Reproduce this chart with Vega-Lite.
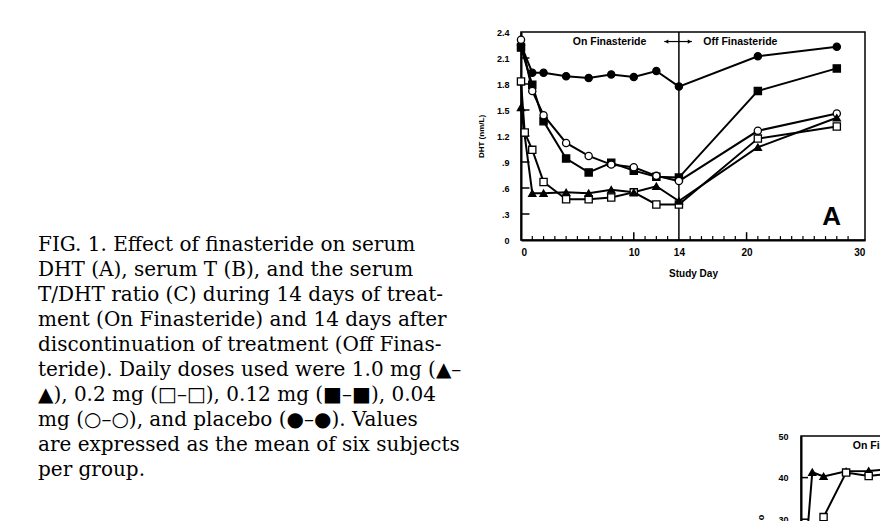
{
  "$schema": "https://vega.github.io/schema/vega-lite/v6.json",
  "background": "white",
  "padding": {"left": 38, "top": 27, "right": 0, "bottom": 0},
  "spacing": 10,
  "config": {
    "view": {"stroke": null},
    "font": "Liberation Sans",
    "axis": {
      "labelFont": "Liberation Sans", "labelFontWeight": "bold", "labelFontSize": 9.5, "labelColor": "black",
      "tickColor": "black", "domainColor": "black", "titleColor": "black", "grid": false,
      "titleFont": "Liberation Sans", "labelOverlap": false, "zindex": 1
    }
  },
  "datasets": {
    "caption": [
      {"line": 1, "text": "FIG. 1. Effect of finasteride on serum"},
      {"line": 2, "text": "DHT (A), serum T (B), and the serum"},
      {"line": 3, "text": "T/DHT ratio (C) during 14 days of treat-"},
      {"line": 4, "text": "ment (On Finasteride) and 14 days after"},
      {"line": 5, "text": "discontinuation of treatment (Off Finas-"},
      {"line": 6, "text": "teride). Daily doses used were 1.0 mg (▲–"},
      {"line": 7, "text": "▲), 0.2 mg (□–□), 0.12 mg (■–■), 0.04"},
      {"line": 8, "text": "mg (○–○), and placebo (●–●). Values"},
      {"line": 9, "text": "are expressed as the mean of six subjects"},
      {"line": 10, "text": "per group."}
    ],
    "dht": [
      {"dose": "placebo", "day": 0, "v": 2.25}, {"dose": "placebo", "day": 1, "v": 1.93}, {"dose": "placebo", "day": 2, "v": 1.93},
      {"dose": "placebo", "day": 4, "v": 1.89}, {"dose": "placebo", "day": 6, "v": 1.87}, {"dose": "placebo", "day": 8, "v": 1.91},
      {"dose": "placebo", "day": 10, "v": 1.88}, {"dose": "placebo", "day": 12, "v": 1.95}, {"dose": "placebo", "day": 14, "v": 1.77},
      {"dose": "placebo", "day": 21, "v": 2.12}, {"dose": "placebo", "day": 28, "v": 2.23},
      {"dose": "0.12 mg", "day": 0, "v": 2.22}, {"dose": "0.12 mg", "day": 1, "v": 1.79}, {"dose": "0.12 mg", "day": 2, "v": 1.37},
      {"dose": "0.12 mg", "day": 4, "v": 0.94}, {"dose": "0.12 mg", "day": 6, "v": 0.78}, {"dose": "0.12 mg", "day": 8, "v": 0.89},
      {"dose": "0.12 mg", "day": 10, "v": 0.80}, {"dose": "0.12 mg", "day": 12, "v": 0.73}, {"dose": "0.12 mg", "day": 14, "v": 0.72},
      {"dose": "0.12 mg", "day": 21, "v": 1.72}, {"dose": "0.12 mg", "day": 28, "v": 1.98},
      {"dose": "0.04 mg", "day": 0, "v": 2.31}, {"dose": "0.04 mg", "day": 1, "v": 1.72}, {"dose": "0.04 mg", "day": 2, "v": 1.44},
      {"dose": "0.04 mg", "day": 4, "v": 1.12}, {"dose": "0.04 mg", "day": 6, "v": 0.97}, {"dose": "0.04 mg", "day": 8, "v": 0.87},
      {"dose": "0.04 mg", "day": 10, "v": 0.84}, {"dose": "0.04 mg", "day": 12, "v": 0.74}, {"dose": "0.04 mg", "day": 14, "v": 0.68},
      {"dose": "0.04 mg", "day": 21, "v": 1.26}, {"dose": "0.04 mg", "day": 28, "v": 1.46},
      {"dose": "0.2 mg", "day": 0, "v": 1.83}, {"dose": "0.2 mg", "day": 0.33, "v": 1.24}, {"dose": "0.2 mg", "day": 1, "v": 1.04},
      {"dose": "0.2 mg", "day": 2, "v": 0.67}, {"dose": "0.2 mg", "day": 4, "v": 0.47}, {"dose": "0.2 mg", "day": 6, "v": 0.47},
      {"dose": "0.2 mg", "day": 8, "v": 0.49}, {"dose": "0.2 mg", "day": 10, "v": 0.55}, {"dose": "0.2 mg", "day": 12, "v": 0.41},
      {"dose": "0.2 mg", "day": 14, "v": 0.41}, {"dose": "0.2 mg", "day": 21, "v": 1.17}, {"dose": "0.2 mg", "day": 28, "v": 1.31},
      {"dose": "1.0 mg", "day": 0, "v": 1.53}, {"dose": "1.0 mg", "day": 1, "v": 0.54}, {"dose": "1.0 mg", "day": 2, "v": 0.54},
      {"dose": "1.0 mg", "day": 4, "v": 0.55}, {"dose": "1.0 mg", "day": 6, "v": 0.54}, {"dose": "1.0 mg", "day": 8, "v": 0.58},
      {"dose": "1.0 mg", "day": 10, "v": 0.55}, {"dose": "1.0 mg", "day": 12, "v": 0.62}, {"dose": "1.0 mg", "day": 14, "v": 0.45},
      {"dose": "1.0 mg", "day": 21, "v": 1.07}, {"dose": "1.0 mg", "day": 28, "v": 1.41}
    ],
    "ratio": [
      {"dose": "1.0 mg", "day": 0, "v": 8}, {"dose": "1.0 mg", "day": 1, "v": 41.3}, {"dose": "1.0 mg", "day": 2, "v": 40.3},
      {"dose": "1.0 mg", "day": 4, "v": 41.5}, {"dose": "1.0 mg", "day": 6, "v": 41.6}, {"dose": "1.0 mg", "day": 8, "v": 42},
      {"dose": "0.2 mg", "day": 0, "v": 8}, {"dose": "0.2 mg", "day": 1, "v": 20}, {"dose": "0.2 mg", "day": 2, "v": 30.5},
      {"dose": "0.2 mg", "day": 4, "v": 41.2}, {"dose": "0.2 mg", "day": 6, "v": 40.4}, {"dose": "0.2 mg", "day": 8, "v": 41}
    ],
    "labelsA": [
      {"day": 7.85, "v": 2.29, "t": "On Finasteride"},
      {"day": 19.45, "v": 2.29, "t": "Off Finasteride"}
    ],
    "arrow": [{"x1": 12.7, "x2": 15.15, "v": 2.29}],
    "arrowHeads": [{"day": 12.9, "v": 2.29, "s": "triangle-left"}, {"day": 14.95, "v": 2.29, "s": "triangle-right"}],
    "bigA": [{"day": 27.55, "v": 0.27, "t": "A"}],
    "labelsB": [{"day": 7.85, "v": 47.6, "t": "On Finasteride"}],
    "day14": [{"day": 14}],
    "yTicksA": [{"v": 0.3}, {"v": 0.6}, {"v": 0.9}, {"v": 1.2}, {"v": 1.5}, {"v": 1.8}, {"v": 2.1}],
    "xMinor": [{"day": 1}, {"day": 2}, {"day": 3}, {"day": 4}, {"day": 5}, {"day": 6}, {"day": 7}, {"day": 8}, {"day": 9},
      {"day": 11}, {"day": 12}, {"day": 13}, {"day": 15}, {"day": 16}, {"day": 17}, {"day": 18}, {"day": 19},
      {"day": 21}, {"day": 22}, {"day": 23}, {"day": 24}, {"day": 25}, {"day": 26}, {"day": 27}, {"day": 28}, {"day": 29}],
    "xMajor": [{"day": 10}, {"day": 20}],
    "yTicksB": [{"v": 10}, {"v": 20}, {"v": 30}, {"v": 40}],
    "none": [{"k": 0}]
  },
  "hconcat": [
    {
      "width": 428, "height": 494,
      "data": {"name": "caption"},
      "mark": {"type": "text", "align": "left", "baseline": "alphabetic", "font": "DejaVu Serif", "fontSize": 20, "color": "black"},
      "encoding": {
        "x": {"datum": 0, "type": "quantitative", "scale": {"domain": [0, 1]}, "axis": null},
        "y": {"field": "line", "type": "quantitative", "scale": {"domain": [-7.76, 12], "reverse": true, "nice": false, "zero": false}, "axis": null},
        "text": {"field": "text"}
      }
    },
    {
      "spacing": 152,
      "vconcat": [
        {
          "width": 344, "height": 208,
          "view": {"stroke": "black", "strokeWidth": 1.5},
          "layer": [
            {
              "data": {"name": "day14"},
              "mark": {"type": "rule", "color": "black", "strokeWidth": 1.5},
              "encoding": {
                "x": {"field": "day", "type": "quantitative", "scale": {"domain": [0, 30.5], "nice": false},
                  "axis": {"orient": "bottom", "values": [0, 10, 14, 20, 30], "tickCount": 10, "ticks": false, "domainWidth": 2, "labelPadding": 7, "labelFontSize": 10, "title": "Study Day", "titleFontSize": 10, "titleFontWeight": "bold", "titlePadding": 11}}
              }
            },
            {
              "data": {"name": "xMinor"},
              "mark": {"type": "rule", "color": "black", "strokeWidth": 1.2},
              "encoding": {
                "x": {"field": "day", "type": "quantitative", "axis": null},
                "y": {"datum": 0, "type": "quantitative"},
                "y2": {"datum": 0.045}
              }
            },
            {
              "data": {"name": "xMajor"},
              "mark": {"type": "rule", "color": "black", "strokeWidth": 1.5},
              "encoding": {
                "x": {"field": "day", "type": "quantitative", "axis": null},
                "y": {"datum": 0, "type": "quantitative"},
                "y2": {"datum": 0.09}
              }
            },
            {
              "data": {"name": "yTicksA"},
              "mark": {"type": "rule", "color": "black", "strokeWidth": 1.5},
              "encoding": {
                "y": {"field": "v", "type": "quantitative"},
                "x": {"datum": 0, "type": "quantitative", "axis": null},
                "x2": {"datum": 0.75}
              }
            },
            {
              "data": {"name": "dht"},
              "mark": {"type": "line", "color": "black", "strokeWidth": 2, "clip": false},
              "encoding": {
                "x": {"field": "day", "type": "quantitative", "axis": null},
                "y": {"field": "v", "type": "quantitative", "scale": {"domain": [0, 2.4], "nice": false},
                  "axis": {"values": [0, 0.3, 0.6, 0.9, 1.2, 1.5, 1.8, 2.1, 2.4], "tickCount": 12, "labelExpr": "datum.value == 0 ? '0' : replace(format(datum.value, '.1f'), '0.', '.')", "labelOverlap": false, "labelFontSize": 9, "ticks": false, "domainWidth": 2, "labelPadding": 12, "title": "DHT (nm/L)", "titleFontSize": 8, "titleFontWeight": "bold", "titlePadding": 11}},
                "detail": {"field": "dose"}
              }
            },
            {
              "data": {"name": "dht"},
              "mark": {"type": "point", "filled": true, "stroke": "black", "strokeWidth": 1.3, "size": 52, "opacity": 1, "clip": false},
              "encoding": {
                "x": {"field": "day", "type": "quantitative", "axis": null},
                "y": {"field": "v", "type": "quantitative"},
                "shape": {"field": "dose", "type": "nominal", "scale": {"domain": ["1.0 mg", "0.2 mg", "0.12 mg", "0.04 mg", "placebo"], "range": ["triangle-up", "square", "square", "circle", "circle"]}, "legend": null},
                "fill": {"field": "dose", "type": "nominal", "scale": {"domain": ["1.0 mg", "0.2 mg", "0.12 mg", "0.04 mg", "placebo"], "range": ["black", "white", "black", "white", "black"]}, "legend": null}
              }
            },
            {
              "data": {"name": "labelsA"},
              "mark": {"type": "text", "font": "Liberation Sans", "fontWeight": "bold", "fontSize": 10.5, "color": "black"},
              "encoding": {
                "x": {"field": "day", "type": "quantitative", "axis": null},
                "y": {"field": "v", "type": "quantitative"},
                "text": {"field": "t"}
              }
            },
            {
              "data": {"name": "arrow"},
              "mark": {"type": "rule", "color": "black", "strokeWidth": 1.2},
              "encoding": {
                "x": {"field": "x1", "type": "quantitative", "axis": null},
                "x2": {"field": "x2"},
                "y": {"field": "v", "type": "quantitative"}
              }
            },
            {
              "data": {"name": "arrowHeads"},
              "mark": {"type": "point", "filled": true, "color": "black", "size": 18, "opacity": 1},
              "encoding": {
                "x": {"field": "day", "type": "quantitative", "axis": null},
                "y": {"field": "v", "type": "quantitative"},
                "shape": {"field": "s", "type": "nominal", "scale": {"domain": ["triangle-left", "triangle-right"], "range": ["triangle-left", "triangle-right"]}, "legend": null}
              }
            },
            {
              "data": {"name": "bigA"},
              "mark": {"type": "text", "font": "Liberation Sans", "fontWeight": "bold", "fontSize": 26, "color": "black"},
              "encoding": {
                "x": {"field": "day", "type": "quantitative", "axis": null},
                "y": {"field": "v", "type": "quantitative"},
                "text": {"field": "t"}
              }
            }
          ],
          "resolve": {"axis": {"x": "independent"}, "scale": {"shape": "independent"}, "legend": {"shape": "independent"}}
        },
        {
          "spacing": 10,
          "hconcat": [
            {
              "width": 225, "height": 10,
              "data": {"name": "none"},
              "mark": {"type": "point", "opacity": 0},
              "encoding": {}
            },
            {
              "width": 344, "height": 208,
              "view": {"stroke": "black", "strokeWidth": 1.5},
              "layer": [
                {
                  "data": {"name": "yTicksB"},
                  "mark": {"type": "rule", "color": "black", "strokeWidth": 1.5},
                  "encoding": {
                    "y": {"field": "v", "type": "quantitative"},
                    "x": {"datum": 0, "type": "quantitative"},
                    "x2": {"datum": 0.62}
                  }
                },
                {
                  "data": {"name": "ratio"},
                  "mark": {"type": "line", "color": "black", "strokeWidth": 2},
                  "encoding": {
                    "x": {"field": "day", "type": "quantitative", "scale": {"domain": [0, 30.5], "nice": false},
                      "axis": {"values": [0, 10, 14, 20, 30], "tickCount": 10, "ticks": false, "domainWidth": 2, "labelPadding": 7, "title": "Study Day", "titleFontSize": 10, "titleFontWeight": "bold"}},
                    "y": {"field": "v", "type": "quantitative", "scale": {"domain": [0, 50], "nice": false},
                      "axis": {"values": [0, 10, 20, 30, 40, 50], "tickCount": 10, "labelOverlap": false, "labelFontSize": 9, "ticks": false, "domainWidth": 2, "labelPadding": 13, "title": "T/DHT Ratio", "titleFontSize": 9, "titleFontWeight": "bold", "titlePadding": 12}},
                    "detail": {"field": "dose"}
                  }
                },
                {
                  "data": {"name": "ratio"},
                  "mark": {"type": "point", "filled": true, "stroke": "black", "strokeWidth": 1.3, "size": 52, "opacity": 1},
                  "encoding": {
                    "x": {"field": "day", "type": "quantitative"},
                    "y": {"field": "v", "type": "quantitative"},
                    "shape": {"field": "dose", "type": "nominal", "scale": {"domain": ["1.0 mg", "0.2 mg"], "range": ["triangle-up", "square"]}, "legend": null},
                    "fill": {"field": "dose", "type": "nominal", "scale": {"domain": ["1.0 mg", "0.2 mg"], "range": ["black", "white"]}, "legend": null}
                  }
                },
                {
                  "data": {"name": "labelsB"},
                  "mark": {"type": "text", "font": "Liberation Sans", "fontWeight": "bold", "fontSize": 10.5, "color": "black"},
                  "encoding": {
                    "x": {"field": "day", "type": "quantitative"},
                    "y": {"field": "v", "type": "quantitative"},
                    "text": {"field": "t"}
                  }
                }
              ]
            }
          ]
        }
      ]
    }
  ]
}
